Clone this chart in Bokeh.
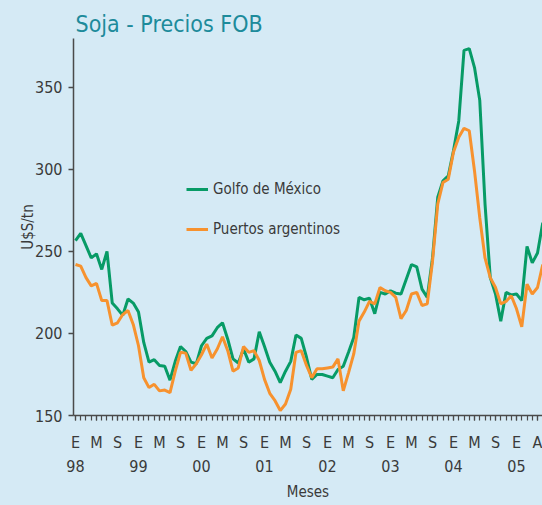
from bokeh.plotting import figure
from bokeh.models import FixedTicker, LinearAxis, Range1d, Legend, LegendItem
from bokeh.embed import file_html
from bokeh.resources import INLINE

# ---- data (monthly, Jan 1998 .. Jun 2005) ----
golfo = [256.5, 261, 253.5, 246, 248.5, 239, 250, 218.5, 215, 211, 221, 218.5,
         213, 194.5, 182.5, 184, 180.5, 180, 171.5, 183, 192, 189, 182.5, 181.5,
         192.5, 197, 198.5, 203.5, 206.5, 196.5, 184.5, 182, 190.5, 182.5, 184.5, 201,
         192, 182.5, 177, 170, 177, 183, 199, 197, 185.5, 172, 175, 175,
         174, 173, 178, 180, 188.5, 197.5, 222, 220.5, 221.5, 212, 225, 224,
         226, 224.5, 224, 233, 242, 240.5, 227, 222, 246, 283, 293, 296,
         311.5, 329.5, 372.5, 373.5, 362, 342, 279, 234, 224, 207.5, 225, 223.5,
         224, 220, 253, 243, 249, 267.5]
puertos = [242, 241, 234, 229, 230.5, 220, 220, 205, 206.5, 211.5, 214, 205.5,
           192.5, 173, 167, 169, 165, 165.5, 164, 177, 188.5, 188, 177.5, 181.5,
           187, 193.5, 185, 190.5, 198, 189.5, 177, 179, 192, 188.5, 189.5, 183.5,
           172, 163.5, 159, 153, 157, 166, 188.5, 189.5, 180.5, 173, 178.5, 178.5,
           179, 179.5, 184.5, 165, 176, 187.5, 207.5, 213, 219.5, 218, 228, 226,
           225, 222, 209, 214, 224, 225, 217, 218, 244, 279, 292, 294,
           310.5, 319.5, 325, 323.5, 299, 270.5, 246, 234, 228, 218, 219.5, 223,
           215, 204, 230, 224, 228, 242]
months = list(range(len(golfo)))

month_letters = ["E", "M", "S"]
years = ["98", "99", "00", "01", "02", "03", "04", "05"]
last_label = "A"
y_ticks = [150, 200, 250, 300, 350]

BG = "#d5eaf5"
GREEN = "#079b66"
ORANGE = "#f7922e"
TXT = "#3a3a3a"
AX = "#4a4a4a"
FONT = "DejaVu Sans Condensed"

p = figure(width=542, height=505, output_backend="svg", toolbar_location=None,
           x_range=Range1d(-0.38, 88.95), y_range=Range1d(150, 379.7),
           min_border_left=73, min_border_right=0, min_border_top=38, min_border_bottom=90,
           background_fill_color=BG, border_fill_color=BG, outline_line_color=None)
p.grid.visible = False

# title
p.title.text = "Soja - Precios FOB"
p.title.text_font = FONT
p.title.text_font_size = "23px"
p.title.text_font_style = "normal"
p.title.text_color = "#1d8b9b"
p.title.offset = 2
p.title.standoff = 3

# lines
r1 = p.line(months, golfo, line_color=GREEN, line_width=3)
r2 = p.line(months, puertos, line_color=ORANGE, line_width=3)

# y axis
ya = p.yaxis[0]
ya.ticker = FixedTicker(ticks=y_ticks)
ya.axis_label = "U$S/tn"
ya.axis_label_text_font = FONT
ya.axis_label_text_font_size = "15px"
ya.axis_label_text_font_style = "normal"
ya.axis_label_text_color = TXT
ya.axis_label_standoff = -5
ya.major_label_text_font = FONT
ya.major_label_text_font_size = "16px"
ya.major_label_text_color = TXT
ya.major_label_standoff = 6
ya.axis_line_color = AX
ya.axis_line_width = 1.5
ya.major_tick_line_color = AX
ya.major_tick_line_width = 1.5
ya.major_tick_in = 0
ya.major_tick_out = 5
ya.minor_tick_line_color = None

# x axis (month letters)
major = []
overrides = {}
for i, y in enumerate(years):
    for j, l in enumerate(month_letters):
        m = i * 12 + j * 4
        if m < len(months) - 3:
            major.append(m)
            overrides[m] = l
major.append(88)
overrides[88] = last_label

xa = p.xaxis[0]
xa.ticker = FixedTicker(ticks=major, minor_ticks=months)
xa.major_label_overrides = overrides
xa.major_label_text_font = FONT
xa.major_label_text_font_size = "16px"
xa.major_label_text_color = TXT
xa.major_label_standoff = 12
xa.axis_line_color = AX
xa.axis_line_width = 1.5
xa.major_tick_line_color = AX
xa.major_tick_line_width = 1.2
xa.major_tick_in = 0
xa.major_tick_out = 5
xa.minor_tick_line_color = AX
xa.minor_tick_line_width = 1.2
xa.minor_tick_in = 0
xa.minor_tick_out = 5

# second x axis (years)
year_ticks = [i * 12 for i in range(len(years))]
xa2 = LinearAxis(ticker=FixedTicker(ticks=year_ticks),
                 major_label_overrides={t: y for t, y in zip(year_ticks, years)})
xa2.axis_line_color = None
xa2.major_tick_line_color = None
xa2.minor_tick_line_color = None
xa2.major_tick_in = 0
xa2.major_tick_out = 0
xa2.minor_tick_out = 0
xa2.major_label_text_font = FONT
xa2.major_label_text_font_size = "16px"
xa2.major_label_text_color = TXT
xa2.major_label_standoff = 5
xa2.axis_label = "Meses"
xa2.axis_label_text_font = FONT
xa2.axis_label_text_font_size = "15px"
xa2.axis_label_text_font_style = "normal"
xa2.axis_label_text_color = TXT
xa2.axis_label_standoff = 8
p.add_layout(xa2, "below")

# legend
legend = Legend(items=[LegendItem(label="Golfo de México", renderers=[r1]),
                       LegendItem(label="Puertos argentinos", renderers=[r2])],
                location=(113, 176), orientation="vertical",
                background_fill_alpha=0, border_line_color=None,
                padding=0, margin=0, spacing=20, glyph_width=22, glyph_height=20,
                label_height=20, label_standoff=5,
                label_text_font=FONT, label_text_font_size="15px", label_text_color=TXT)
p.add_layout(legend)

html = file_html(p, INLINE, title="Soja - Precios FOB")
html = html.replace("</head>", "<style>html,body{background-color:%s;}</style></head>" % BG, 1)
open("out.html", "w").write(html)
